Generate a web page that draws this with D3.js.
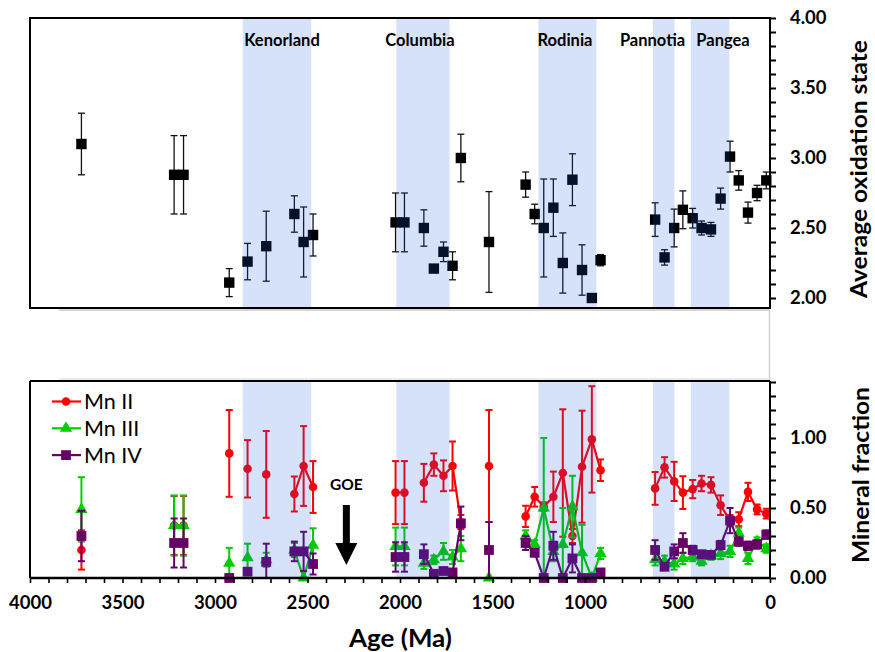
<!DOCTYPE html>
<html><head><meta charset="utf-8">
<script src="https://cdn.jsdelivr.net/npm/d3@7"></script>
<style>body{margin:0;background:#fff} text{font-family:Lato,"Open Sans",sans-serif}</style>
</head><body><svg id="c" width="875" height="652"></svg>
<script>
// ---------------- data ----------------
const ages   = [3722,3221,3170,2923,2824,2723,2571,2521,2470,2024,1976,1871,1817,1765,1716,1671,1519,
                1321,1272,1223,1171,1120,1068,1016,963,916,
                621,570,518,471,418,370,319,267,216,169,119,70,20];
const groups = [1,2,2,3,4,5,6,6,6,7,7,8,8,8,8,8,9,
                10,10,10,10,10,10,10,10,10,
                11,11,11,11,11,11,11,11,11,11,11,11,11];
const oxState = [3.10,2.88,2.88,2.11,2.26,2.37,2.60,2.40,2.45,2.54,2.54,2.50,2.21,2.33,2.23,3.00,2.40,
                 2.81,2.60,2.50,2.645,2.25,2.845,2.20,2.00,2.27,
                 2.56,2.29,2.50,2.63,2.57,2.50,2.49,2.71,3.01,2.84,2.61,2.75,2.84];
const oxErr   = [0.22,0.28,0.28,0.10,0.13,0.25,0.13,0.25,0.15,0.21,0.21,0.13,0.02,0.07,0.10,0.17,0.36,
                 0.09,0.07,0.35,0.205,0.215,0.185,0.18,0,0.04,
                 0.12,0.055,0.135,0.135,0.07,0.05,0.05,0.075,0.11,0.07,0.075,0.055,0.06];
const mn2     = [0.20,0.375,0.375,0.89,0.78,0.74,0.60,0.80,0.65,0.61,0.61,0.68,0.81,0.73,0.80,0.40,0.80,
                 0.44,0.58,0.51,0.58,0.75,0.30,0.795,0.99,0.77,
                 0.64,0.79,0.69,0.61,0.635,0.675,0.665,0.52,0.41,0.42,0.615,0.49,0.46];
const mn2Err  = [0.14,0.21,0.21,0.31,0.205,0.31,0.125,0.285,0.185,0.225,0.225,0.135,0.08,0.11,0.175,0.05,0.40,
                 0.076,0.07,0.03,0.18,0.455,0.05,0.40,0.38,0.077,
                 0.117,0.073,0.14,0.117,0.065,0.055,0.055,0.07,0.04,0.05,0.065,0.035,0.035];
const mn3     = [0.49,0.375,0.375,0.105,0.145,0.13,0.20,0.0,0.235,0.225,0.225,0.105,0.13,0.19,0.15,0.21,0.0,
                 0.30,0.24,0.50,0.19,0.24,0.51,0.18,0.0,0.175,
                 0.13,0.12,0.10,0.14,0.15,0.12,0.16,0.175,0.19,0.32,0.14,0.26,0.21];
const mn3Err  = [0.23,0.215,0.215,0.11,0.10,0.05,0.05,0,0.12,0.135,0.135,0.04,0.03,0.06,0.05,0.09,0,
                 0.04,0.03,0.50,0.07,0.26,0.22,0.20,0,0.04,
                 0.04,0.04,0.04,0.04,0.03,0.03,0.03,0.04,0.04,0.04,0.04,0.03,0.03];
const mn4     = [0.30,0.25,0.25,0.0,0.045,0.115,0.19,0.19,0.10,0.15,0.15,0.17,0.03,0.05,0.04,0.39,0.20,
                 0.25,0.18,0.0,0.23,0.0,0.14,0.0,0.0,0.04,
                 0.20,0.08,0.19,0.25,0.20,0.17,0.165,0.235,0.41,0.26,0.23,0.24,0.31];
const mn4Err  = [0.18,0.175,0.175,0,0.02,0.13,0.07,0.14,0.075,0.105,0.105,0.07,0.01,0.01,0.01,0.12,0.20,
                 0.05,0.02,0,0.10,0,0.10,0,0,0.01,
                 0.07,0.02,0.05,0.07,0.03,0.02,0.02,0.03,0.09,0.03,0.03,0.03,0.03];
const bandNames = ["Kenorland","Columbia","Rodinia","Pannotia","Pangea"];
const bandStart = [2850,2020,1252,633,428];
const bandEnd   = [2480,1732,938,516,220];
const bandLabelAge = [2638,1892,1108,635,254];
const xTicks = [4000,3500,3000,2500,2000,1500,1000,500,0];
const topTicks = [2.0,2.5,3.0,3.5,4.0];
const botTicks = [0.0,0.5,1.0];

// ---------------- layout ----------------
const svg = d3.select("#c");
const L = 30, R = 770;
const x = d3.scaleLinear().domain([4000,0]).range([L,R]);
const yT = d3.scaleLinear().domain([2,4]).range([298,18]);
const yB = d3.scaleLinear().domain([0,1.4]).range([578,382]);
const topY0 = 18, topY1 = 308, botY0 = 381, botY1 = 578;

const rows = ages.map((a,i)=>({age:a,g:groups[i],ox:oxState[i],oxE:oxErr[i],
  s:[{v:mn2[i],e:mn2Err[i]},{v:mn3[i],e:mn3Err[i]},{v:mn4[i],e:mn4Err[i]}]}));

// faint artefact lines
svg.append("line").attr("x1",59).attr("x2",R).attr("y1",310).attr("y2",310).attr("stroke","#c8c8c8").attr("stroke-width",1.5);
svg.append("line").attr("x1",R-0.5).attr("x2",R-0.5).attr("y1",310).attr("y2",380).attr("stroke","#d0d0d0").attr("stroke-width",1.5);
svg.append("line").attr("x1",59).attr("x2",R).attr("y1",379).attr("y2",379).attr("stroke","#d8d8d8").attr("stroke-width",1);

// ---------------- top panel ----------------
const gT = svg.append("g");
const eb = gT.append("g").attr("stroke","#111").attr("stroke-width",1.3);
rows.filter(d=>d.oxE>0).forEach(d=>{
  const cx = x(d.age), y1 = yT(d.ox+d.oxE), y2 = yT(d.ox-d.oxE);
  eb.append("line").attr("x1",cx).attr("x2",cx).attr("y1",y1).attr("y2",y2);
  eb.append("line").attr("x1",cx-3.5).attr("x2",cx+3.5).attr("y1",y1).attr("y2",y1);
  eb.append("line").attr("x1",cx-3.5).attr("x2",cx+3.5).attr("y1",y2).attr("y2",y2);
});
gT.selectAll("rect.pt").data(rows).join("rect").attr("class","pt")
  .attr("x",d=>x(d.age)-5.2).attr("y",d=>yT(d.ox)-5.2).attr("width",10.4).attr("height",10.4).attr("fill","#000");
// band overlays (translucent, on top of data)
gT.selectAll("rect.band").data(bandStart).join("rect").attr("class","band")
  .attr("x",(d,i)=>x(d)).attr("width",(d,i)=>x(bandEnd[i])-x(d))
  .attr("y",topY0).attr("height",topY1-topY0).attr("fill","rgb(30,90,230)").attr("fill-opacity",0.18);
gT.append("rect").attr("x",L).attr("y",topY0).attr("width",R-L).attr("height",topY1-topY0)
  .attr("fill","none").attr("stroke","#000").attr("stroke-width",2);
gT.selectAll("text.band").data(bandNames).join("text").attr("class","band")
  .attr("x",(d,i)=>x(bandLabelAge[i])).attr("y",46).attr("text-anchor","middle")
  .attr("font-size",16.5).attr("font-weight","bold").text(d=>d);
const axT = d3.axisRight(yT).tickValues(d3.range(20,41).map(v=>v/10)).tickSize(6)
  .tickFormat(v=>topTicks.some(t=>Math.abs(t-v)<1e-6)?d3.format(".2f")(v):"").tickPadding(14);
const gAxT = svg.append("g").attr("transform",`translate(${R},0)`).call(axT);
gAxT.select(".domain").remove();
gAxT.selectAll("line").attr("stroke","#000").attr("stroke-width",2);
gAxT.selectAll("text").attr("font-size",18.5).attr("font-weight","bold").attr("fill","#000");
svg.append("text").attr("transform",`translate(867,169) rotate(-90)`).attr("text-anchor","middle")
  .attr("font-size",23).attr("font-weight","bold").attr("textLength",258).attr("lengthAdjust","spacingAndGlyphs")
  .text("Average oxidation state");

// ---------------- bottom panel ----------------
const colors = ["#ff0000","#00cc00","#660066"];
const names = ["Mn II","Mn III","Mn IV"];
const gB = svg.append("g");
const grouped = d3.groups(rows,d=>d.g);
[0,1,2].forEach(k=>{
  const c = colors[k];
  const line = d3.line().x(d=>x(d.age)).y(d=>yB(d.s[k].v));
  const gs = gB.append("g");
  grouped.forEach(([g,arr])=>{
    if(arr.length>1) gs.append("path").attr("d",line(arr)).attr("fill","none").attr("stroke",c).attr("stroke-width",2.2);
  });
  rows.filter(d=>d.s[k].e>0).forEach(d=>{
    const cx=x(d.age), y1=yB(d.s[k].v+d.s[k].e), y2=yB(Math.max(0,d.s[k].v-d.s[k].e));
    gs.append("line").attr("x1",cx).attr("x2",cx).attr("y1",y1).attr("y2",y2).attr("stroke",c).attr("stroke-width",2);
    gs.append("line").attr("x1",cx-3.5).attr("x2",cx+3.5).attr("y1",y1).attr("y2",y1).attr("stroke",c).attr("stroke-width",2);
    gs.append("line").attr("x1",cx-3.5).attr("x2",cx+3.5).attr("y1",y2).attr("y2",y2).attr("stroke",c).attr("stroke-width",2);
  });
  const sym = k===0? d3.symbol(d3.symbolCircle,58) : k===1? d3.symbol(d3.symbolTriangle,66) : d3.symbol(d3.symbolSquare,96);
  gs.selectAll("path.m").data(rows).join("path").attr("class","m")
    .attr("transform",d=>`translate(${x(d.age)},${yB(d.s[k].v)})`).attr("d",sym).attr("fill",c);
});
gB.selectAll("rect.band").data(bandStart).join("rect").attr("class","band")
  .attr("x",(d,i)=>x(d)).attr("width",(d,i)=>x(bandEnd[i])-x(d))
  .attr("y",botY0).attr("height",botY1-botY0).attr("fill","rgb(30,90,230)").attr("fill-opacity",0.18);
// frame
gB.append("line").attr("x1",L).attr("x2",R).attr("y1",botY0).attr("y2",botY0).attr("stroke","#000").attr("stroke-width",2);
gB.append("line").attr("x1",L).attr("x2",L).attr("y1",botY0).attr("y2",botY1).attr("stroke","#000").attr("stroke-width",2);
// x axis
const axX = d3.axisBottom(x).tickValues(d3.range(0,4001,100)).tickSize(5)
  .tickFormat(v=>xTicks.includes(v)?String(v):"").tickPadding(13);
const gAxX = svg.append("g").attr("transform",`translate(0,${botY1})`).call(axX);
gAxX.select(".domain").attr("stroke","#000").attr("stroke-width",2.5).attr("d",`M${L},0H${R}`);
gAxX.selectAll("line").attr("stroke","#000").attr("stroke-width",1.6);
gAxX.selectAll("text").attr("font-size",18.5).attr("font-weight","bold").attr("fill","#000");
svg.append("text").attr("x",400.5).attr("y",647).attr("text-anchor","middle")
  .attr("font-size",25).attr("font-weight","bold").attr("textLength",103).attr("lengthAdjust","spacingAndGlyphs")
  .text("Age (Ma)");
// right y axis bottom
const axB = d3.axisRight(yB).tickValues(d3.range(0,15).map(v=>v/10)).tickSize(6)
  .tickFormat(v=>botTicks.some(t=>Math.abs(t-v)<1e-6)?d3.format(".2f")(v):"").tickPadding(14);
const gAxB = svg.append("g").attr("transform",`translate(${R},0)`).call(axB);
gAxB.select(".domain").attr("stroke","#000").attr("stroke-width",2).attr("d",`M0,${botY0}V${botY1}`);
gAxB.selectAll("line").attr("stroke","#000").attr("stroke-width",2);
gAxB.selectAll("text").attr("font-size",18.5).attr("font-weight","bold").attr("fill","#000");
svg.append("text").attr("transform",`translate(869,475) rotate(-90)`).attr("text-anchor","middle")
  .attr("font-size",23).attr("font-weight","bold").attr("textLength",176).attr("lengthAdjust","spacingAndGlyphs")
  .text("Mineral fraction");

// legend
const lg = svg.append("g");
names.forEach((n,k)=>{
  const ly = 401.5 + k*26.8;
  lg.append("line").attr("x1",52).attr("x2",81).attr("y1",ly).attr("y2",ly).attr("stroke",colors[k]).attr("stroke-width",2.2);
  const sym = k===0? d3.symbol(d3.symbolCircle,58) : k===1? d3.symbol(d3.symbolTriangle,66) : d3.symbol(d3.symbolSquare,96);
  lg.append("path").attr("transform",`translate(66,${ly})`).attr("d",sym).attr("fill",colors[k]);
  lg.append("text").attr("x",84).attr("y",ly+7.5).attr("font-size",21.5).text(n);
});

// GOE annotation
const ga = x(2290);
svg.append("text").attr("x",ga).attr("y",489.5).attr("text-anchor","middle").attr("font-size",15.5).attr("font-weight","bold").text("GOE");
svg.append("path").attr("d",`M${ga-3.5},505H${ga+3.5}V543H${ga+11}L${ga},565L${ga-11},543H${ga-3.5}Z`).attr("fill","#000");
</script></body></html>
